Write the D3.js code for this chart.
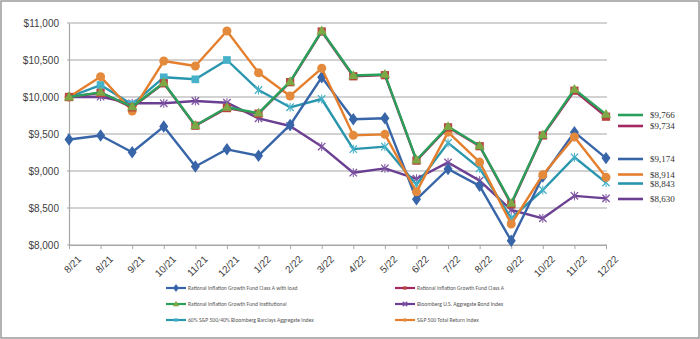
<!DOCTYPE html>
<html>
<head>
<meta charset="utf-8">
<script src="https://cdn.jsdelivr.net/npm/d3@7"></script>
<style>
  body { margin: 0; background: #fff; }
  svg { display: block; font-family: Calibri, "Liberation Sans", Arial, sans-serif; }
</style>
</head>
<body>
<div id="viz"></div>
<script>
"use strict";
(function(){
    const months = ["8/21","8/21","9/21","10/21","11/21","12/21","1/22","2/22","3/22","4/22","5/22","6/22","7/22","8/22","9/22","10/22","11/22","12/22"]
    const yTicks = [8000, 8500, 9000, 9500, 10000, 10500, 11000]

    const classALoad = [9425, 9480, 9253, 9600, 9060, 9293, 9207, 9622, 10266, 9699, 9712, 8618, 9027, 8799, 8058, 8925, 9525, 9174]
    const classA = [10000, 10055, 9860, 10185, 9612, 9850, 9775, 10200, 10885, 10280, 10295, 9140, 9590, 9335, 8550, 9480, 10085, 9734]
    const institutional = [10000, 10062, 9868, 10193, 9615, 9861, 9782, 10207, 10892, 10290, 10305, 9149, 9600, 9340, 8563, 9488, 10104, 9766]
    const bloomberg = [10000, 10004, 9915, 9915, 9946, 9923, 9712, 9608, 9330, 8977, 9036, 8895, 9116, 8870, 8473, 8361, 8664, 8630]
    const mix6040 = [10000, 10162, 9900, 10266, 10239, 10500, 10095, 9861, 9973, 9295, 9329, 8815, 9380, 9036, 8361, 8743, 9185, 8843]
    const sp500 = [10000, 10275, 9811, 10486, 10419, 10892, 10328, 10014, 10388, 9482, 9495, 8718, 9525, 9120, 8284, 8950, 9460, 8914]

    const endLabels = ["$9,766", "$9,734", "$9,174", "$8,914", "$8,843", "$8,630"]

    const measurements = { width: 700, height: 339, left: 69, right: 606, top: 23, bottom: 245 }

    // series, in drawing order (bottom first)
    const series = [
        { name: "Bloomberg U.S. Aggregate Bond Index", values: bloomberg, line: "#6B3F92", mark: "star", fill: "#7E55A3", end: 5, lx: 395, ly: 304 },
        { name: "60% S&P 500/40% Bloomberg Barclays Aggregate Index", values: mix6040, line: "#2A96AD", mark: "mix", fill: "#45B2C9", end: 4, lx: 166, ly: 320 },
        { name: "Rational Inflation Growth Fund Class A with load", values: classALoad, line: "#3765A8", mark: "diamond", fill: "#3765A8", end: 2, lx: 166, ly: 288 },
        { name: "S&P 500 Total Return Index", values: sp500, line: "#E47F2E", mark: "circle", fill: "#E48A3C", end: 3, lx: 395, ly: 320 },
        { name: "Rational Inflation Growth Fund Class A", values: classA, line: "#A3285F", mark: "square", fill: "#B8443F", end: 1, lx: 395, ly: 288 },
        { name: "Rational Inflation Growth Fund Institutional", values: institutional, line: "#2BA05A", mark: "triangle", fill: "#7DA845", end: 0, lx: 166, ly: 304 }
    ]
    const endY = [115, 126, 159, 174.5, 183.5, 199]

    const svg = d3.select("#viz").append("svg")
        .attr("width", measurements.width)
        .attr("height", measurements.height)

    // frame
    svg.append("rect")
        .attr("x", 1).attr("y", 1)
        .attr("width", measurements.width - 2).attr("height", measurements.height - 2)
        .attr("fill", "none").attr("stroke", "#9a9a9a").attr("stroke-width", 1.5)

    const x = d3.scalePoint()
        .domain(d3.range(months.length))
        .range([measurements.left, measurements.right])

    const y = d3.scaleLinear()
        .domain([8000, 11000])
        .range([measurements.bottom, measurements.top])

    // gridlines
    svg.append("g")
        .selectAll("line")
        .data(yTicks)
        .enter()
        .append("line")
            .attr("x1", measurements.left - 2)
            .attr("x2", measurements.right + 1)
            .attr("y1", d => y(d))
            .attr("y2", d => y(d))
            .attr("stroke", "#a6a6a6")
            .attr("stroke-width", 1.2)

    // y axis
    const yAxis = svg.append("g")
        .attr("transform", `translate(${measurements.left},0)`)
        .call(d3.axisLeft(y).tickValues(yTicks).tickSize(0).tickPadding(10)
            .tickFormat(d => "$" + d3.format(",")(d)))
    yAxis.select(".domain").attr("stroke", "#a6a6a6").attr("stroke-width", 1.2)
    yAxis.selectAll("text").attr("font-size", 10).attr("fill", "#404040")

    // x axis
    const xAxis = svg.append("g")
        .attr("transform", `translate(0,${measurements.bottom})`)
        .call(d3.axisBottom(x).tickSize(4).tickSizeOuter(0).tickFormat(i => months[i]))
    xAxis.select(".domain").attr("stroke", "#a6a6a6").attr("stroke-width", 1.2)
    xAxis.selectAll(".tick line").attr("stroke", "#a6a6a6")
    xAxis.selectAll("text")
        .attr("font-size", 10)
        .attr("fill", "#404040")
        .attr("text-anchor", "end")
        .attr("dx", "-0.1em")
        .attr("dy", "0.6em")
        .attr("transform", "translate(4,5) rotate(-45)")

    function drawMarker(g, kind, cx, cy, s, fill) {
        if (kind === "diamond") {
            g.append("path").attr("d", d3.symbol(d3.symbolDiamond, s * 6)())
                .attr("transform", `translate(${cx},${cy}) scale(1.25,1)`).attr("fill", fill)
        } else if (kind === "square") {
            g.append("rect").attr("x", cx - s * 0.55).attr("y", cy - s * 0.55)
                .attr("width", s * 1.1).attr("height", s * 1.1).attr("fill", fill)
        } else if (kind === "triangle") {
            g.append("path").attr("d", d3.symbol(d3.symbolTriangle, s * 6)())
                .attr("transform", `translate(${cx},${cy + 0.5})`).attr("fill", fill)
        } else if (kind === "circle") {
            g.append("circle").attr("cx", cx).attr("cy", cy).attr("r", s * 0.6).attr("fill", fill)
        } else if (kind === "star") {
            g.append("path").attr("d", d3.symbol(d3.symbolTimes, s * 5)())
                .attr("transform", `translate(${cx},${cy})`).attr("fill", "none")
                .attr("stroke", fill).attr("stroke-width", 1.3)
            g.append("line").attr("x1", cx).attr("x2", cx).attr("y1", cy - s * 0.6).attr("y2", cy + s * 0.6)
                .attr("stroke", fill).attr("stroke-width", 1)
        }
    }

    const line = d3.line().x((d, i) => x(i)).y(d => y(d))

    series.forEach(s => {
        const g = svg.append("g")
        g.append("path")
            .datum(s.values)
            .attr("d", line)
            .attr("fill", "none")
            .attr("stroke", s.line)
            .attr("stroke-width", 2.4)
            .attr("stroke-linejoin", "round")
        s.values.forEach((v, i) => {
            let kind = s.mark
            if (kind === "mix") kind = i <= 5 ? "square" : "star"
            drawMarker(g, kind, x(i), y(v), kind === "square" && s.mark === "mix" ? 7 : 7.5, s.fill)
        })

        // end label on the right
        const ey = endY[s.end]
        g.append("line")
            .attr("x1", 618).attr("x2", 643).attr("y1", ey).attr("y2", ey)
            .attr("stroke", s.line).attr("stroke-width", 2.6)
        svg.append("text")
            .attr("x", 650).attr("y", ey)
            .attr("dy", "0.35em")
            .attr("font-family", "'Liberation Serif', 'DejaVu Serif', serif")
            .attr("font-size", 9)
            .attr("fill", "#333")
            .text(endLabels[s.end])

        // legend entry
        g.append("line")
            .attr("x1", s.lx).attr("x2", s.lx + 20).attr("y1", s.ly).attr("y2", s.ly)
            .attr("stroke", s.line).attr("stroke-width", 2.2)
        let lk = s.mark === "mix" ? "square" : s.mark
        drawMarker(g, lk, s.lx + 10, s.ly, 3, s.fill)
        svg.append("text")
            .attr("x", s.lx + 22).attr("y", s.ly)
            .attr("dy", "0.35em")
            .attr("font-size", 5.6)
            .attr("fill", "#555")
            .text(s.name)
    })
})()
</script>
</body>
</html>
